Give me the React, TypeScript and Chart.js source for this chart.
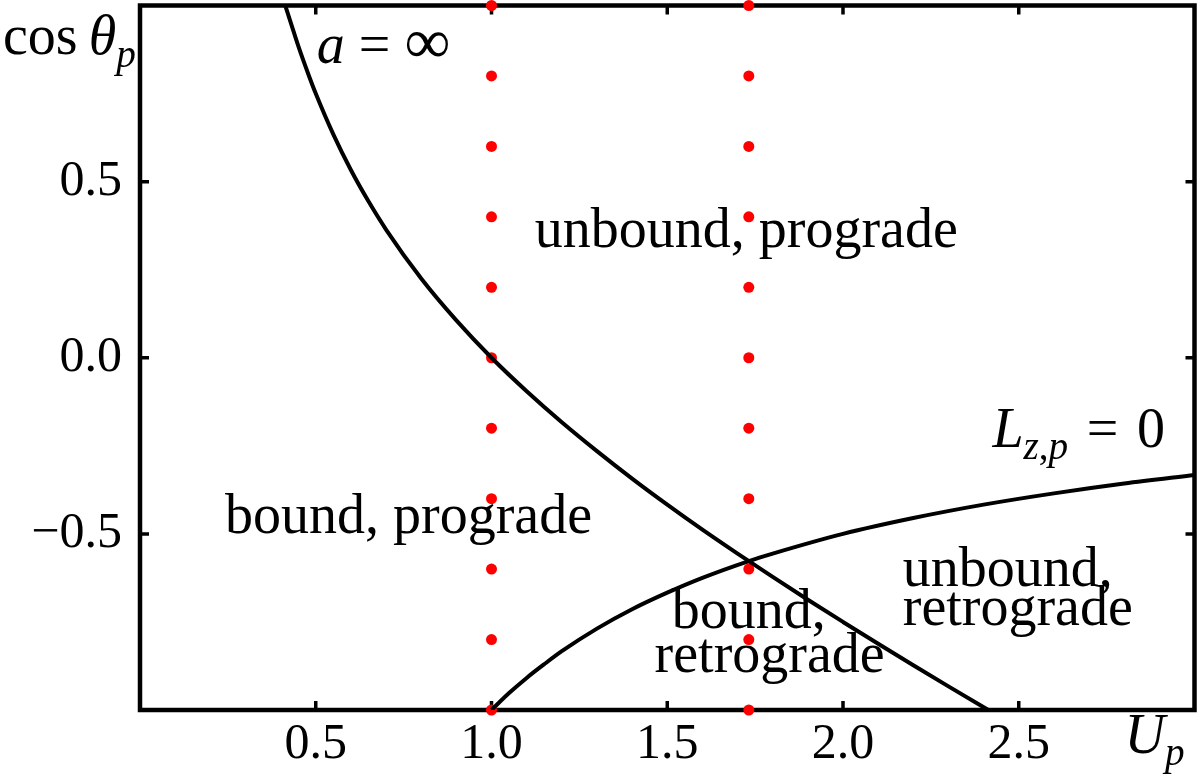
import React, { useEffect, useRef } from 'react';
import { Chart, registerables } from 'chart.js';

Chart.register(...registerables);

// ---- Data ----
// Curve "a = ∞"
const curveAx = [0.41, 0.43, 0.45, 0.48, 0.5, 0.55, 0.6, 0.65, 0.7, 0.8, 0.9, 1.0, 1.1, 1.2, 1.3, 1.4, 1.5, 1.6, 1.7, 1.8, 1.9, 2.0, 2.1, 2.2, 2.3, 2.41, 2.45];
const curveAy = [1.01, 0.948, 0.886, 0.802, 0.75, 0.634, 0.533, 0.444, 0.364, 0.225, 0.106, 0.0, -0.095, -0.183, -0.265, -0.343, -0.417, -0.488, -0.556, -0.622, -0.687, -0.75, -0.812, -0.873, -0.933, -0.998, -1.021];
// Curve "L_{z,p} = 0"
const curveBx = [1.0, 1.05, 1.1, 1.15, 1.2, 1.3, 1.4, 1.5, 1.6, 1.73, 1.8, 2.0, 2.2, 2.4, 2.6, 2.8, 3.0];
const curveBy = [-1.0, -0.952, -0.909, -0.87, -0.833, -0.769, -0.714, -0.667, -0.625, -0.578, -0.556, -0.5, -0.455, -0.417, -0.385, -0.357, -0.333];
// Red sample dots
const dotColumns = [1.0, 1.732];
const dotLevels = [-1.0, -0.8, -0.6, -0.4, -0.2, 0.0, 0.2, 0.4, 0.6, 0.8, 1.0];
// Tick values
const xTickValues = [0.5, 1.0, 1.5, 2.0, 2.5];
const yTickValues = [-0.5, 0.0, 0.5];

type Seg = { t: string; it?: boolean; sub?: boolean; k?: number };
type Note = { x: number; y: number; segs: Seg[] };

const notes: Note[] = [
  { x: 0.503, y: 0.838, segs: [{ t: 'a', it: true }, { t: ' = ' }, { t: '∞', k: 1.15 }] },
  { x: 1.123, y: 0.315, segs: [{ t: 'unbound, prograde' }] },
  { x: 0.242, y: -0.497, segs: [{ t: 'bound, prograde' }] },
  { x: 2.425, y: -0.253, segs: [{ t: 'L', it: true }, { t: 'z', it: true, sub: true }, { t: ',', sub: true }, { t: 'p', it: true, sub: true }, { t: ' \u200A=\u200A ' }, { t: '0' }] },
  { x: 2.17, y: -0.648, segs: [{ t: 'unbound,' }] },
  { x: 2.17, y: -0.758, segs: [{ t: 'retrograde' }] },
  { x: 1.513, y: -0.767, segs: [{ t: 'bound,' }] },
  { x: 1.464, y: -0.892, segs: [{ t: 'retrograde' }] },
  { x: -0.39, y: 0.861, segs: [{ t: 'cos\u2009' }, { t: 'θ', it: true }, { t: 'p', it: true, sub: true }] },
  { x: 2.801, y: -1.122, segs: [{ t: 'U', it: true }, { t: 'p', it: true, sub: true }] },
];

const FONT = '"Liberation Serif", "Times New Roman", serif';
const TEXT_SIZE = 56;
const TICK_SIZE = 50;

function drawRich(ctx: CanvasRenderingContext2D, segs: Seg[], x: number, y: number, size: number) {
  let cx = x;
  for (const s of segs) {
    const fs = (s.sub ? size * 0.7 : size) * (s.k || 1);
    ctx.font = `${s.it ? 'italic ' : ''}${fs}px ${FONT}`;
    ctx.fillText(s.t, cx, y + (s.sub ? size * 0.22 : 0));
    cx += ctx.measureText(s.t).width;
  }
}

const framePlugin = {
  id: 'framePlugin',
  beforeDatasetsDraw(chart: any) {
    const { ctx, chartArea: a, scales } = chart;
    ctx.save();
    ctx.strokeStyle = '#000';
    ctx.lineWidth = 4.5;
    ctx.strokeRect(a.left, a.top, a.right - a.left, a.bottom - a.top);
    ctx.lineWidth = 3.5;
    const tl = 9;
    ctx.beginPath();
    for (const v of xTickValues) {
      const px = scales.x.getPixelForValue(v);
      ctx.moveTo(px, a.bottom); ctx.lineTo(px, a.bottom - tl);
      ctx.moveTo(px, a.top); ctx.lineTo(px, a.top + tl);
    }
    for (const v of yTickValues) {
      const py = scales.y.getPixelForValue(v);
      ctx.moveTo(a.left, py); ctx.lineTo(a.left + tl, py);
      ctx.moveTo(a.right, py); ctx.lineTo(a.right - tl, py);
    }
    ctx.stroke();
    ctx.restore();
  },
};

const textPlugin = {
  id: 'textPlugin',
  afterDraw(chart: any) {
    const { ctx, scales } = chart;
    ctx.save();
    ctx.fillStyle = '#000';
    ctx.textBaseline = 'alphabetic';
    ctx.textAlign = 'left';
    for (const n of notes) {
      drawRich(ctx, n.segs, scales.x.getPixelForValue(n.x), scales.y.getPixelForValue(n.y), TEXT_SIZE);
    }
    ctx.restore();
  },
};

export default function App() {
  const ref = useRef<HTMLCanvasElement>(null);
  useEffect(() => {
    document.body.style.margin = '0';
    const canvas = ref.current!;
    const dots: { x: number; y: number }[] = [];
    for (const cx of dotColumns) for (const ly of dotLevels) dots.push({ x: cx, y: ly });
    const chart = new Chart(canvas, {
      type: 'scatter',
      data: {
        datasets: [
          {
            data: curveAx.map((x, i) => ({ x, y: curveAy[i] })),
            showLine: true,
            borderColor: '#000',
            borderWidth: 4,
            pointRadius: 0,
            cubicInterpolationMode: 'monotone',
            clip: 0,
          } as any,
          {
            data: curveBx.map((x, i) => ({ x, y: curveBy[i] })),
            showLine: true,
            borderColor: '#000',
            borderWidth: 4,
            pointRadius: 0,
            cubicInterpolationMode: 'monotone',
            clip: 0,
          } as any,
          {
            data: dots,
            showLine: false,
            pointRadius: 5.5,
            pointBackgroundColor: '#ff0000',
            pointBorderWidth: 0,
            borderWidth: 0,
            clip: false,
          } as any,
        ],
      },
      options: {
        responsive: false,
        maintainAspectRatio: false,
        animation: false,
        layout: { padding: { top: 5, right: 5, left: 0, bottom: 0 } },
        plugins: { legend: { display: false }, tooltip: { enabled: false } },
        scales: {
          x: {
            type: 'linear',
            min: 0,
            max: 3,
            grid: { display: false, drawTicks: false },
            border: { display: false },
            ticks: {
              stepSize: 0.5,
              padding: 5,
              color: '#000',
              font: { family: FONT, size: TICK_SIZE },
              maxRotation: 0,
              callback: (v: any) => (v === 0 || v === 3 ? '' : Number(v).toFixed(1)),
            },
            afterFit: (s: any) => { s.height = 65; s.paddingLeft = 0; s.paddingRight = 0; },
          },
          y: {
            type: 'linear',
            min: -1,
            max: 1,
            grid: { display: false, drawTicks: false },
            border: { display: false },
            ticks: {
              stepSize: 0.5,
              padding: 18,
              color: '#000',
              font: { family: FONT, size: TICK_SIZE },
              callback: (v: any) => {
                const n = Number(v);
                if (n === -1 || n === 1) return '';
                return (n < 0 ? '\u2212' : '') + Math.abs(n).toFixed(1);
              },
            },
            afterFit: (s: any) => { s.width = 140; s.paddingTop = 0; s.paddingBottom = 0; },
          },
        },
      },
      plugins: [framePlugin, textPlugin],
    });
    return () => chart.destroy();
  }, []);
  return (
    <div style={{ width: 1200, height: 775 }}>
      <canvas ref={ref} width={1200} height={775} style={{ display: 'block' }} />
    </div>
  );
}
